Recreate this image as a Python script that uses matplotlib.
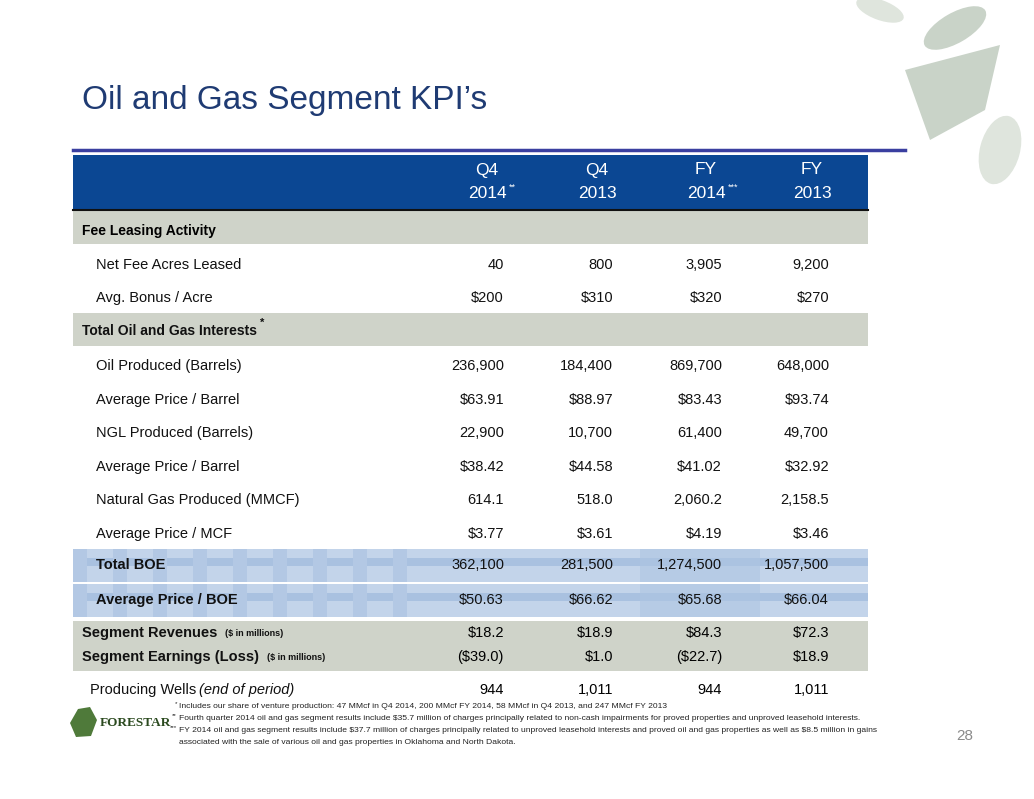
import matplotlib.pyplot as plt
from matplotlib.patches import Rectangle, Ellipse, Polygon

plt.rcParams['font.family'] = ['Liberation Sans Narrow', 'Liberation Sans', 'DejaVu Sans']
plt.rcParams['text.parse_math'] = False

# table data
col_top = ["Q4", "Q4", "FY", "FY"]
col_year = ["2014", "2013", "2014", "2013"]
col_sup = ["**", "", "***", ""]

fee_labels = ["Net Fee Acres Leased", "Avg. Bonus / Acre"]
fee_values = [["40", "800", "3,905", "9,200"],
              ["$200", "$310", "$320", "$270"]]

oil_labels = ["Oil Produced (Barrels)", "Average Price / Barrel", "NGL Produced (Barrels)",
              "Average Price / Barrel", "Natural Gas Produced (MMCF)", "Average Price / MCF"]
oil_values = [["236,900", "184,400", "869,700", "648,000"],
              ["$63.91", "$88.97", "$83.43", "$93.74"],
              ["22,900", "10,700", "61,400", "49,700"],
              ["$38.42", "$44.58", "$41.02", "$32.92"],
              ["614.1", "518.0", "2,060.2", "2,158.5"],
              ["$3.77", "$3.61", "$4.19", "$3.46"]]

boe_labels = ["Total BOE", "Average Price / BOE"]
boe_values = [["362,100", "281,500", "1,274,500", "1,057,500"],
              ["$50.63", "$66.62", "$65.68", "$66.04"]]

seg_labels = ["Segment Revenues", "Segment Earnings (Loss)"]
seg_values = [["$18.2", "$18.9", "$84.3", "$72.3"],
              ["($39.0)", "$1.0", "($22.7)", "$18.9"]]

wells_values = ["944", "1,011", "944", "1,011"]

footnotes = [
    "Includes our share of venture production: 47 MMcf in Q4 2014, 200 MMcf FY 2014, 58 MMcf in Q4 2013, and 247 MMcf FY 2013",
    "Fourth quarter 2014 oil and gas segment results include $35.7 million of charges principally related to non-cash impairments for proved properties and unproved leasehold interests.",
    "FY 2014 oil and gas segment results include $37.7 million of charges principally related to unproved leasehold interests and proved oil and gas properties as well as $8.5 million in gains",
    "associated with the sale of various oil and gas properties in Oklahoma and North Dakota.",
]
foot_marks = ["*", "**", "***", ""]

fig = plt.figure(figsize=(10.34, 7.99), dpi=100)
ax = fig.add_axes([0, 0, 1, 1])
ax.set_xlim(0, 1034)
ax.set_ylim(799, 0)
ax.axis('off')

navy = '#1f3b73'
gray_bg = '#cfd3c9'
val_x = [504, 613, 722, 829]
hdr_x = [487, 597, 706, 812]

def after(t, s, size, dy=0, bold=False, style='normal'):
    ax.annotate(s, xy=(1, 0.5), xycoords=t, xytext=(2, dy), textcoords='offset points',
                fontsize=size, va='center', ha='left', color=t.get_color(),
                fontweight='bold' if bold else 'normal', style=style)

# leaf decoration
leaf = '#c9d3c8'
ax.add_patch(Polygon([[905, 70], [1000, 45], [985, 110], [930, 140]], color=leaf, lw=0))
ax.add_patch(Ellipse((955, 28), 70, 30, angle=-30, color=leaf, lw=0))
ax.add_patch(Ellipse((1000, 150), 40, 70, angle=15, color='#dfe5dd', lw=0))
ax.add_patch(Ellipse((880, 10), 50, 20, angle=20, color='#dfe5dd', lw=0))

ax.text(82, 100, "Oil and Gas Segment KPI\u2019s", fontsize=24, color=navy, va='center', ha='left')
ax.plot([73, 905], [150, 150], color='#3a3fa0', lw=2.5)

# header
ax.add_patch(Rectangle((73, 155), 795, 54, color='#0b4793', lw=0))
ax.plot([73, 868], [209.5, 209.5], color='#111111', lw=1.5)
for i in range(4):
    ax.text(hdr_x[i], 170, col_top[i], color='white', fontsize=12.5, ha='center', va='center')
    t = ax.text(hdr_x[i], 194, col_year[i], color='white', fontsize=12.5, ha='center', va='center')
    if col_sup[i]:
        after(t, col_sup[i], 6.5, dy=5)

def row(y, label, vals, bold=False, lx=96, size=10.5):
    ax.text(lx, y, label, fontsize=size, ha='left', va='center',
            fontweight='bold' if bold else 'normal', color='#111111')
    for i, v in enumerate(vals):
        ax.text(val_x[i], y, v, fontsize=10.5, ha='right', va='center', color='#111111')

# Fee leasing
ax.add_patch(Rectangle((73, 211), 795, 33, color=gray_bg, lw=0))
ax.text(82, 231, "Fee Leasing Activity", fontsize=10, fontweight='bold', va='center')
for k, y in enumerate([265, 298]):
    row(y, fee_labels[k], fee_values[k])

ax.add_patch(Rectangle((73, 313), 795, 33, color=gray_bg, lw=0))
t = ax.text(82, 331, "Total Oil and Gas Interests", fontsize=10, fontweight='bold', va='center',
            color='#111111')
after(t, "*", 8, dy=6, bold=True)
for k in range(len(oil_labels)):
    row(366 + k * 33.6, oil_labels[k], oil_values[k])

# BOE bands (patterned light blue)
for y0 in [549, 584]:
    ax.add_patch(Rectangle((73, y0), 795, 33, color='#c3d4ea', lw=0))
    ax.add_patch(Rectangle((73, y0 + 9), 795, 8, color='#a9c1e0', lw=0))
    for x0 in range(73, 430, 40):
        ax.add_patch(Rectangle((x0, y0), 14, 33, color='#b3c8e4', lw=0))
    ax.add_patch(Rectangle((640, y0), 120, 33, color='#aec5e3', lw=0, alpha=0.6))
row(565, boe_labels[0], boe_values[0], bold=True)
row(600, boe_labels[1], boe_values[1], bold=True)

# Segment
ax.add_patch(Rectangle((73, 621), 795, 50, color=gray_bg, lw=0))
for k, y in enumerate([633, 657]):
    t = ax.text(82, y, seg_labels[k], fontsize=10.5, fontweight='bold', va='center', color='#111111')
    after(t, "  ($ in millions)", 6.5, bold=True)
    for i, v in enumerate(seg_values[k]):
        ax.text(val_x[i], y, seg_values[k][i], fontsize=10.5, ha='right', va='center')

t = ax.text(90, 690, "Producing Wells", fontsize=10.5, va='center', color='#111111')
after(t, "(end of period)", 10.5, style='italic')
for i, v in enumerate(wells_values):
    ax.text(val_x[i], 690, v, fontsize=10.5, ha='right', va='center')

# footnotes
for k, t in enumerate(footnotes):
    y = 707 + k * 12
    ax.text(177, y - 3, foot_marks[k], fontsize=4.5, ha='right', va='center', color='#222222')
    ax.text(179, y, t, fontsize=6.1, ha='left', va='center', color='#222222')

# logo
ax.add_patch(Polygon([[70, 723], [78, 709], [90, 707], [97, 720], [91, 736], [76, 737]],
                     color='#4f7a3a', lw=0))
ax.text(100, 723, "FORESTAR", fontsize=9.5, fontweight='bold', va='center',
        family=['Liberation Serif', 'DejaVu Serif'], color='#2b4a1f')

ax.text(965, 736, "28", fontsize=11, color='#8a8a8a', ha='center', va='center')

fig.savefig("out.png", dpi=100)
